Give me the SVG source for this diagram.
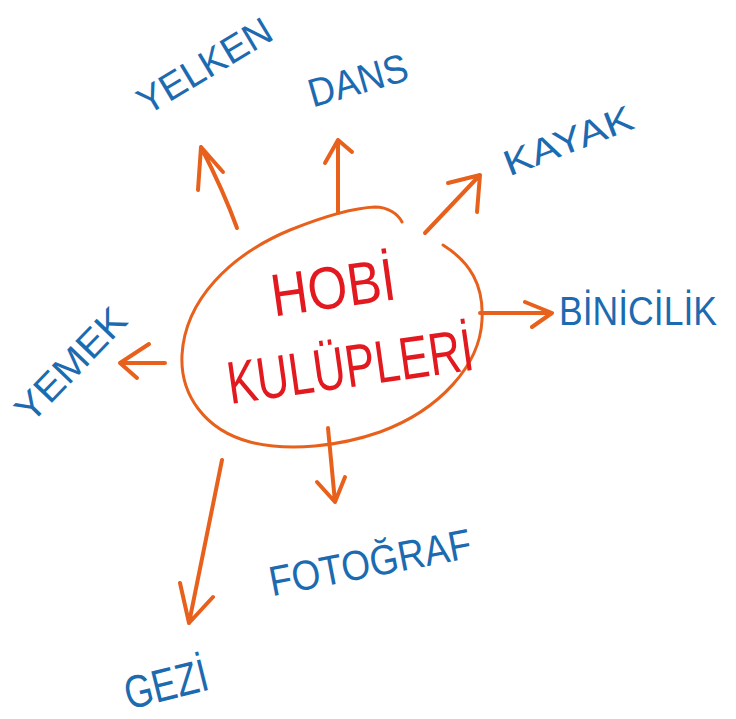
<svg xmlns="http://www.w3.org/2000/svg" width="736" height="719" viewBox="0 0 736 719">
  <style>
    .bg { fill: #ffffff; }
    .conn { fill: none; stroke: #e8611c; stroke-width: 4; stroke-linecap: round; stroke-linejoin: round; }
    .hub { fill: none; stroke: #e8611c; stroke-width: 3; stroke-linecap: round; }
    .lbl { font-family: "Liberation Sans", Arial, sans-serif; fill: #1c6ab0; text-anchor: middle; }
    .ctr { font-family: "Liberation Sans", Arial, sans-serif; fill: #e2191f; text-anchor: middle; }
  </style>
  <rect class="bg" x="0" y="0" width="736" height="719"/>

  <g id="connectors">
    <path class="conn" d="M237,228 Q224,192 201,147 M198,190 L201,147 L223,172"/>
    <path class="conn" d="M338,213 L338,140 M325,163 L338,140 L352,152"/>
    <path class="conn" d="M425,233 L480,175 M448,183 L480,175 L477,212"/>
    <path class="conn" d="M480,313 L552,313 M525,302 L552,313 L532,327"/>
    <path class="conn" d="M165,363 L120,363 M149,344 L120,363 L137,378"/>
    <path class="conn" d="M328,428 L335,502 M317,482 L335,502 L345,477"/>
    <path class="conn" d="M222,460 L189,623 M180,583 L189,623 L213,597"/>
  </g>

  <g id="node-hub">
    <path class="hub" d="M443,245 C470,262 484,285 482,320 C480,365 440,410 380,432 C340,446 290,452 250,442 C205,430 180,395 182,355 C185,300 230,255 290,230 C320,218 350,208 375,207 C388,207 398,214 402,222"/>
    <text class="ctr" font-size="60" transform="translate(333,287) rotate(-8)" y="21" textLength="125" lengthAdjust="spacingAndGlyphs">HOBİ</text>
    <text class="ctr" font-size="60" transform="translate(350,366) rotate(-8)" y="21" textLength="248" lengthAdjust="spacingAndGlyphs">KULÜPLERİ</text>
  </g>

  <g id="node-yelken">
    <text class="lbl" font-size="38" transform="translate(204,65) rotate(-31)" y="14" textLength="150" lengthAdjust="spacingAndGlyphs">YELKEN</text>
  </g>
  <g id="node-dans">
    <text class="lbl" font-size="40" transform="translate(358,80) rotate(-16)" y="14" textLength="102" lengthAdjust="spacingAndGlyphs">DANS</text>
  </g>
  <g id="node-kayak">
    <text class="lbl" font-size="36" transform="translate(568,140) rotate(-21)" y="13" textLength="136" lengthAdjust="spacingAndGlyphs">KAYAK</text>
  </g>
  <g id="node-binicilik">
    <text class="lbl" font-size="40" x="638" y="325" textLength="158" lengthAdjust="spacingAndGlyphs">BİNİCİLİK</text>
  </g>
  <g id="node-yemek">
    <text class="lbl" font-size="38" transform="translate(70,364) rotate(-46)" y="14" textLength="142" lengthAdjust="spacingAndGlyphs">YEMEK</text>
  </g>
  <g id="node-fotograf">
    <text class="lbl" font-size="42" transform="translate(370,562) rotate(-11)" y="15" textLength="205" lengthAdjust="spacingAndGlyphs">FOTOĞRAF</text>
  </g>
  <g id="node-gezi">
    <text class="lbl" font-size="46" transform="translate(166,684) rotate(-14)" y="16" textLength="85" lengthAdjust="spacingAndGlyphs">GEZİ</text>
  </g>
</svg>
